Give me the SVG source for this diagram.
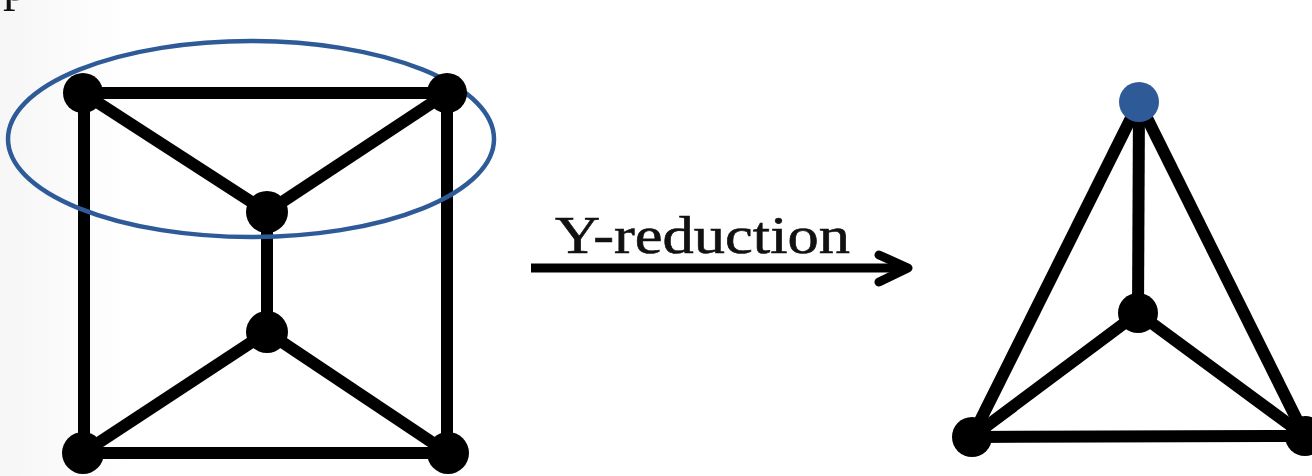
<svg xmlns="http://www.w3.org/2000/svg" width="1312" height="476" viewBox="0 0 1312 476">
  <style>
    .edge { stroke: #000; stroke-width: 12; stroke-linecap: butt; fill: none; }
    .node { fill: #000; }
    .blue { fill: #2e5b98; }
    .label { font-family: "Liberation Serif", "DejaVu Serif", serif; fill: #111; }
  </style>
  <defs>
    <linearGradient id="bg" x1="0" y1="0" x2="1" y2="0">
      <stop offset="0" stop-color="#f6f6f6"/>
      <stop offset="0.1" stop-color="#ffffff"/>
    </linearGradient>
  </defs>
  <rect width="1312" height="476" fill="url(#bg)"/>
  <text class="label" x="3" y="0" font-size="50">p</text>

  <g id="connectors">
    <!-- left graph -->
    <line class="edge" x1="83" y1="93" x2="447" y2="93"/>
    <line class="edge" x1="84" y1="93" x2="84" y2="453"/>
    <line class="edge" x1="447" y1="93" x2="447" y2="453"/>
    <line class="edge" x1="83" y1="93" x2="267" y2="212"/>
    <line class="edge" x1="447" y1="93" x2="267" y2="212"/>
    <line class="edge" x1="267" y1="212" x2="267" y2="332"/>
    <line class="edge" x1="267" y1="332" x2="83" y2="453"/>
    <line class="edge" x1="267" y1="332" x2="448" y2="453"/>
    <line class="edge" x1="83" y1="453" x2="448" y2="453"/>
    <!-- right graph -->
    <line class="edge" x1="1139" y1="102" x2="972" y2="437"/>
    <line class="edge" x1="1139" y1="102" x2="1305" y2="436"/>
    <line class="edge" x1="1139" y1="102" x2="1138" y2="313"/>
    <line class="edge" x1="1138" y1="313" x2="972" y2="437"/>
    <line class="edge" x1="1138" y1="313" x2="1305" y2="436"/>
    <line class="edge" x1="972" y1="437" x2="1305" y2="436"/>
    <!-- reduction arrow -->
    <g id="arrow">
      <line x1="531" y1="268" x2="908" y2="268" stroke="#000" stroke-width="9"/>
      <polyline points="879,255 908,268 879,282" fill="none" stroke="#000" stroke-width="9" stroke-linecap="round" stroke-linejoin="round"/>
    </g>
  </g>

  <g id="ellipse-group">
    <ellipse cx="251" cy="139" rx="243" ry="98" fill="none" stroke="#2e5b98" stroke-width="4.5"/>
  </g>

  <g id="node-tl"><circle class="node" cx="83" cy="93" r="20"/></g>
  <g id="node-tr"><circle class="node" cx="447" cy="93" r="20"/></g>
  <g id="node-mu"><circle class="node" cx="267" cy="212" r="21"/></g>
  <g id="node-ml"><circle class="node" cx="267" cy="332" r="21"/></g>
  <g id="node-bl"><circle class="node" cx="83" cy="453" r="21"/></g>
  <g id="node-br"><circle class="node" cx="448" cy="453" r="21"/></g>

  <g id="node-r-top"><circle class="blue" cx="1139" cy="102" r="20"/></g>
  <g id="node-r-center"><circle class="node" cx="1138" cy="313" r="20"/></g>
  <g id="node-r-bl"><circle class="node" cx="972" cy="437" r="20"/></g>
  <g id="node-r-br"><circle class="node" cx="1305" cy="436" r="20"/></g>

  <g id="label-reduction">
    <text class="label" x="555" y="253" font-size="52" textLength="295" lengthAdjust="spacingAndGlyphs" stroke="#111" stroke-width="0.6">Y-reduction</text>
  </g>
</svg>
